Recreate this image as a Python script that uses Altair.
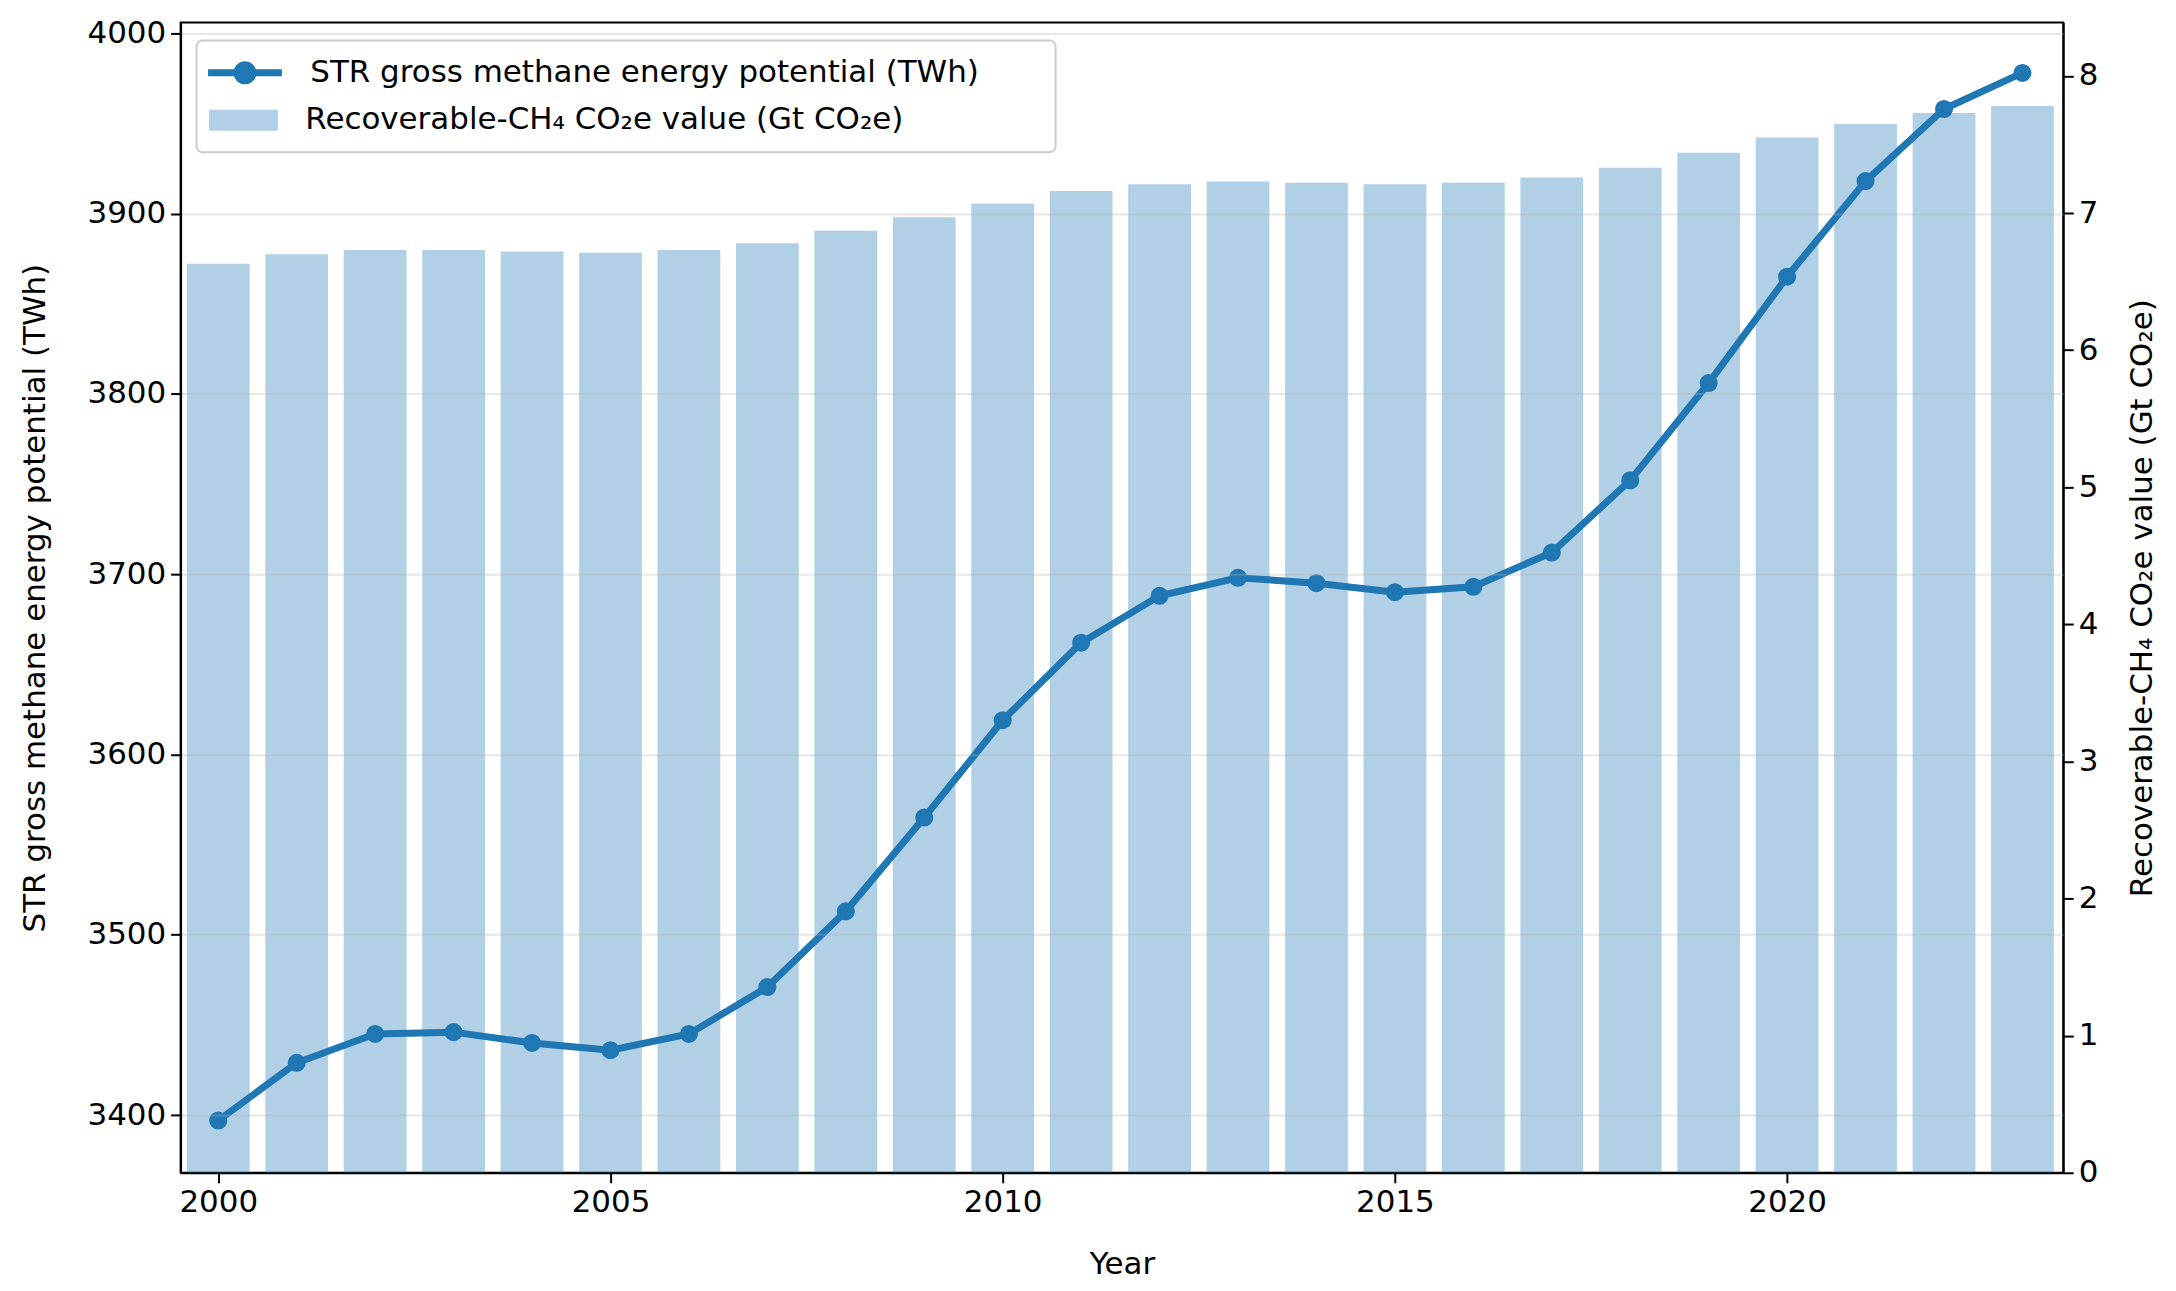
import altair as alt
import pandas as pd

# values
years = list(range(2000, 2024))
energy_twh = [3397, 3429, 3445, 3446, 3440, 3436, 3445, 3471, 3513, 3565,
              3619, 3662, 3688, 3698, 3695, 3690, 3693, 3712, 3752, 3806,
              3865, 3918, 3958, 3978]
co2e_gt = [6.63, 6.70, 6.73, 6.73, 6.72, 6.71, 6.73, 6.78, 6.87, 6.97,
           7.07, 7.16, 7.21, 7.23, 7.22, 7.21, 7.22, 7.26, 7.33, 7.44,
           7.55, 7.65, 7.73, 7.78]
x_ticks = [2000, 2005, 2010, 2015, 2020]
left_ticks = [3400, 3500, 3600, 3700, 3800, 3900, 4000]
right_ticks = [0, 1, 2, 3, 4, 5, 6, 7, 8]

LINE_LABEL = "STR gross methane energy potential (TWh)"
BAR_LABEL = "Recoverable-CH\u2084 CO\u2082e value (Gt CO\u2082e)"
BLUE = "#1f77b4"
FONT = "DejaVu Sans"

df = pd.DataFrame({"year": years, "twh": energy_twh, "gt": co2e_gt})
df["line_series"] = LINE_LABEL
df["bar_series"] = BAR_LABEL

x_scale = alt.Scale(domain=[1999.52, 2023.52], nice=False, zero=False)
x_axis = alt.Axis(values=x_ticks, format="d", title="Year", grid=False,
                  titlePadding=32)

legend_style = dict(
    title=None, orient="none", padding=0, labelFontSize=31, labelFont=FONT,
    labelColor="black", symbolSize=2500, labelOffset=37, labelLimit=1000,
)

# legend frame, matplotlib style
frame = alt.Chart(pd.DataFrame({"box": [0]})).mark_rect(
    fill="white", fillOpacity=0.8, stroke="#cccccc", strokeWidth=2, cornerRadius=6
).encode(
    x=alt.value(16), x2=alt.value(877), y=alt.value(18), y2=alt.value(130)
)

bars = alt.Chart(df).transform_calculate(
    x0="datum.year - 0.4", x1="datum.year + 0.4"
).mark_bar(opacity=0.35).encode(
    x=alt.X("x0:Q", scale=x_scale, axis=x_axis),
    x2="x1:Q",
    y=alt.Y("gt:Q", scale=alt.Scale(domain=[0, 8.39], nice=False),
            axis=alt.Axis(orient="right", values=right_ticks, grid=False,
                          title=BAR_LABEL, titleAngle=270, titleBaseline="top",
                          titlePadding=30)),
    y2=alt.datum(0),
    fill=alt.Fill(
        "bar_series:N", scale=alt.Scale(domain=[BAR_LABEL], range=[BLUE]),
        legend=alt.Legend(symbolType="M-1.38,-0.42H1.38V0.42H-1.38Z",
                          symbolOpacity=0.35, symbolStrokeWidth=0,
                          legendX=38, legendY=73, **legend_style),
    ),
)

line = alt.Chart(df).mark_line(
    strokeWidth=7,
    point=alt.OverlayMarkDef(size=260, filled=True, color=BLUE, opacity=1),
).encode(
    x=alt.X("year:Q", scale=x_scale, axis=x_axis),
    y=alt.Y("twh:Q", scale=alt.Scale(domain=[3368, 4006], nice=False, zero=False),
            axis=alt.Axis(orient="left", values=left_ticks, format="d", grid=True,
                          zindex=1, gridColor="#b0b0b0", gridOpacity=0.3, gridWidth=2,
                          title=LINE_LABEL, titlePadding=36)),
    stroke=alt.Stroke(
        "line_series:N", scale=alt.Scale(domain=[LINE_LABEL], range=[BLUE]),
        legend=alt.Legend(symbolType="M-1.48,0H1.48M0.32,0A0.32,0.32,0,1,1,-0.32,0A0.32,0.32,0,1,1,0.32,0",
                          symbolFillColor=BLUE, symbolStrokeWidth=7,
                          legendX=36, legendY=22, **legend_style),
    ),
)

chart = alt.layer(bars, line, frame).resolve_scale(y="independent").properties(
    width=1887, height=1153,
    autosize=alt.AutoSizeParams(type="none"),
    padding={"left": 173, "top": 13, "right": 105, "bottom": 110},
).configure_view(
    stroke="black", strokeWidth=2
).configure_axis(
    labelFont=FONT, titleFont=FONT, labelFontSize=31, titleFontSize=31,
    labelColor="black", titleColor="black", titleFontWeight="normal",
    domainColor="black", domainWidth=2, tickColor="black", tickWidth=2,
    tickSize=10, labelPadding=5,
)

chart.save("out.html", embed_options={"renderer": "svg", "actions": False})
